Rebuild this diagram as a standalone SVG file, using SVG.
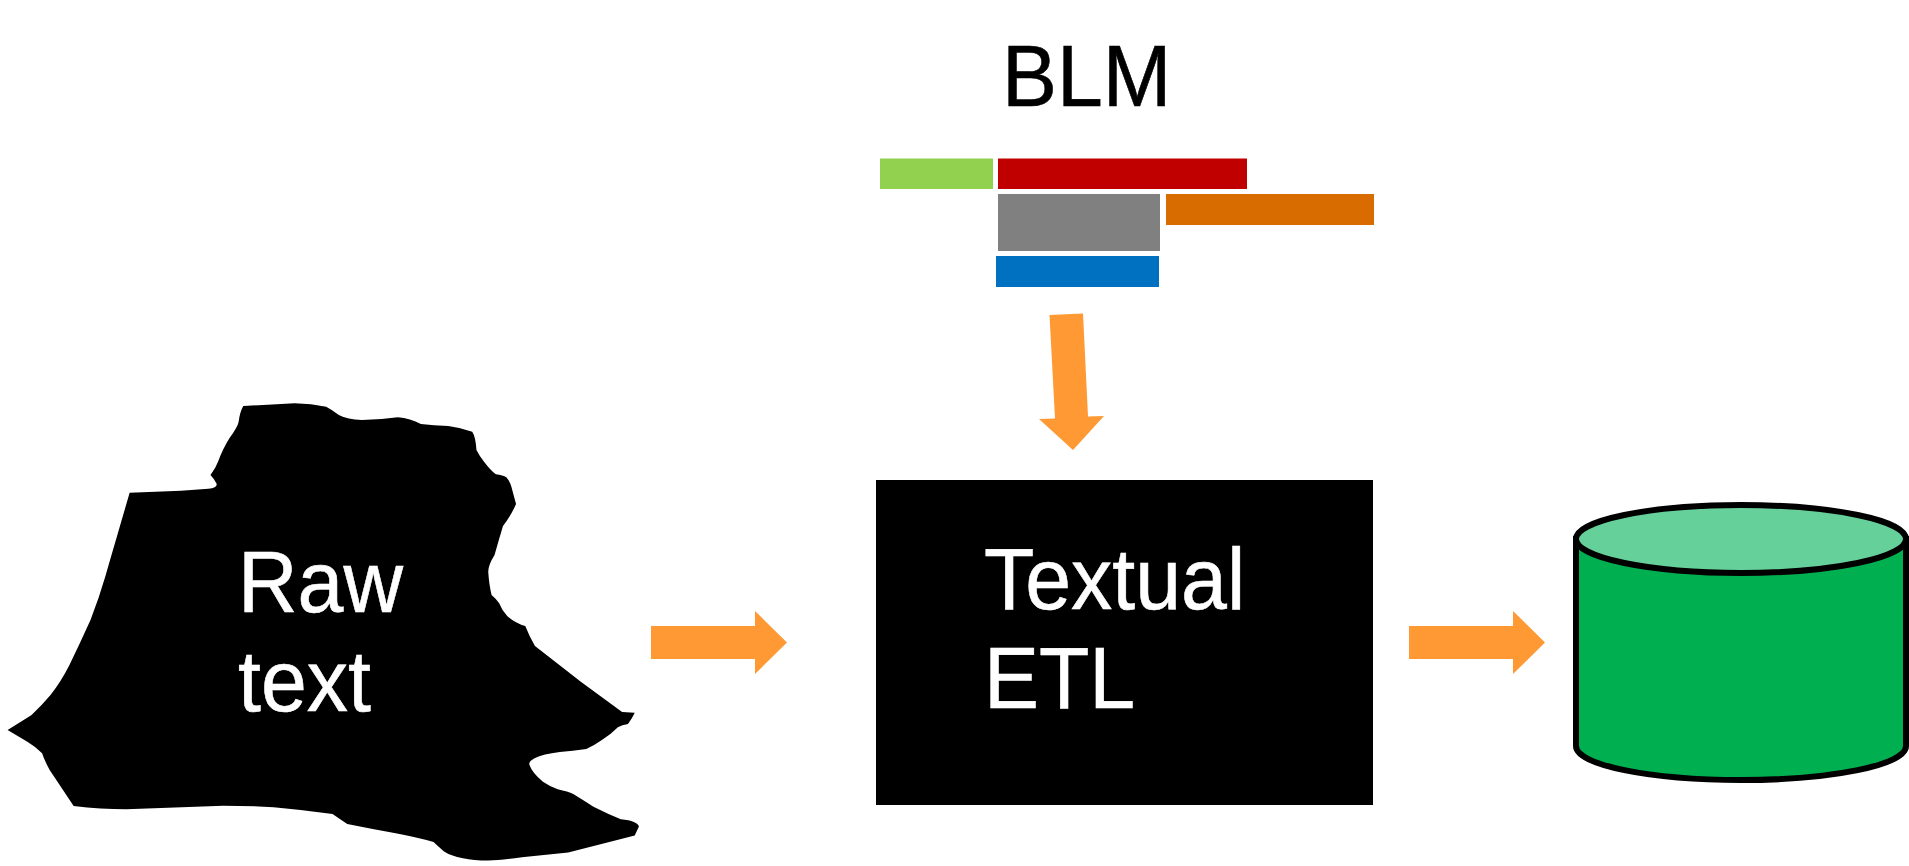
<svg xmlns="http://www.w3.org/2000/svg" width="1909" height="866" viewBox="0 0 1909 866">
<style>
.lbl{font-family:"Liberation Sans",Arial,sans-serif;font-size:87px;stroke-width:.6px}
.w{fill:#fff;stroke:#fff}
.k{fill:#000;stroke:#000}
.arrow{fill:#FF9933}
</style>
<rect width="1909" height="866" fill="#fff"/>
<g id="blm">
<text class="lbl k" transform="translate(1002,106) scale(.948,1)">BLM</text>
<rect x="880" y="158.500" width="113" height="30.500" fill="#92D050"/>
<rect x="998" y="158.500" width="249" height="30.500" fill="#C00000"/>
<rect x="998" y="194" width="162" height="57" fill="#808080"/>
<rect x="1166" y="194" width="208" height="31" fill="#D96C00"/>
<rect x="996" y="256" width="163" height="31" fill="#0070C0"/>
</g>
<g id="raw-text">
<path transform="translate(0,390) scale(.4209,.3333)" fill="#000" d="M578,48L700,40Q740,41 775,50Q790,60 805,75Q825,88 860,90Q900,90 945,82Q975,85 1000,102Q1030,106 1065,108Q1095,113 1122,125Q1130,140 1132,180Q1140,200 1150,215Q1165,240 1178,253Q1195,256 1203,262Q1212,275 1215,290L1226,342Q1215,375 1195,408Q1185,450 1175,495Q1160,525 1160,545Q1162,585 1168,615Q1180,628 1186,640Q1192,660 1205,678Q1225,700 1248,708Q1258,740 1271,768L1380,875L1478,966L1508,968Q1502,985 1492,1002Q1478,1005 1468,1012Q1450,1035 1430,1050Q1412,1066 1393,1077Q1360,1083 1330,1086Q1290,1092 1270,1105Q1255,1115 1258,1125Q1265,1150 1290,1175Q1305,1188 1325,1198Q1350,1205 1362,1212Q1385,1230 1410,1250Q1445,1272 1475,1288Q1515,1293 1518,1310L1508,1337L1350,1388L1240,1402Q1190,1410 1160,1412Q1125,1412 1100,1405Q1070,1398 1055,1385Q1040,1368 1030,1356Q990,1342 940,1330Q880,1316 825,1302Q805,1285 790,1272Q720,1260 650,1252Q590,1247 530,1247L300,1258Q240,1258 175,1248L118,1140Q105,1110 100,1090Q85,1070 65,1055L18,1020Q50,995 75,975Q100,945 120,915Q145,875 165,825Q190,760 215,690Q235,625 250,560Q265,495 280,430L308,308L430,302L495,296Q515,295 515,282Q510,268 500,255Q512,235 518,215Q530,175 545,145Q565,110 567,95Q570,65 578,48Z"/>
<text class="lbl w" transform="translate(238,612) scale(.948,1)">Raw</text>
<text class="lbl w" transform="translate(238,711) scale(.948,1)">text</text>
</g>
<g id="textual-etl">
<rect x="876" y="480" width="497" height="325" fill="#000"/>
<text class="lbl w" transform="translate(984,609) scale(.948,1)">Textual</text>
<text class="lbl w" transform="translate(984,708) scale(.948,1)">ETL</text>
</g>
<g id="store">
<path d="M1576,539V746C1576,765 1650,780 1741,780C1832,780 1906,765 1906,746V539Z" fill="#00B050" stroke="#000" stroke-width="6"/>
<ellipse cx="1741" cy="539" rx="165" ry="34" fill="#66D09A" stroke="#000" stroke-width="6"/>
</g>
<g id="connectors">
<polygon class="arrow" points="651,626 755,626 755,611 787,642.500 755,674 755,659 651,659"/>
<polygon class="arrow" points="1409,626 1513,626 1513,611 1545,642.500 1513,674 1513,659 1409,659"/>
<polygon class="arrow" points="1049.500,315 1083,313.500 1088,416.500 1104,416 1073,450 1039,419 1055,418.500"/>
</g>
</svg>
